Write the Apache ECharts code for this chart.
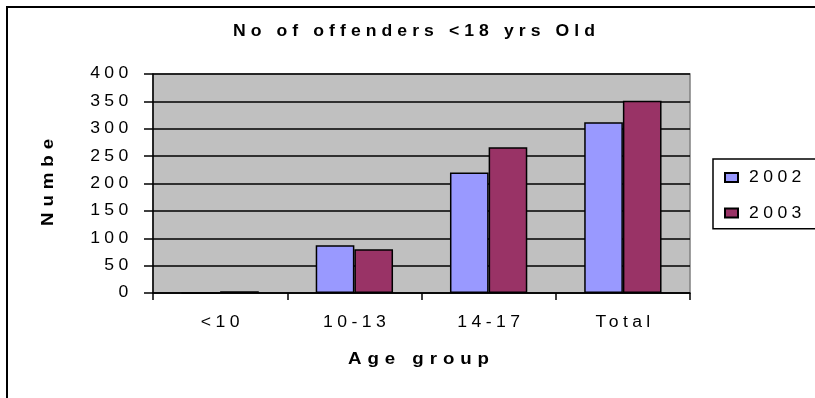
<!DOCTYPE html>
<html>
<head>
<meta charset="utf-8">
<script src="https://cdn.jsdelivr.net/npm/echarts@6/dist/echarts.min.js"></script>
<style>
  html, body { margin: 0; padding: 0; background: #ffffff; }
  #chart { width: 815px; height: 398px; }
</style>
</head>
<body>
<div id="chart"></div>
<script>
// Offender counts by age group
const categories = ['<10', '10-13', '14-17', 'Total'];
const seriesNames = ['2002', '2003'];
const values2002 = [0, 87, 220, 312];
const values2003 = [3, 80, 266, 351];
const yMin = 0;
const yMax = 400;
const yStep = 50;

const FONT = 'Arial, "Liberation Sans", sans-serif';

// Wide, tracked lettering: glyphs drawn slightly stretched with extra spacing
function textLook(font) {
  const m = /(\d+(?:\.\d+)?)px/.exec(font);
  const size = m ? parseFloat(m[1]) : 12;
  const bold = /bold|[6-9]00/.test(font);
  if (bold) return { sx: 1.1, ls: size >= 17 ? 5.4 : 4.6 };
  return { sx: 1.1, ls: 4 };
}
const nativeFillText = CanvasRenderingContext2D.prototype.fillText;
CanvasRenderingContext2D.prototype.fillText = function (text, x, y, maxWidth) {
  const look = textLook(this.font);
  this.save();
  this.translate(x, y);
  this.scale(look.sx, 1);
  if ('letterSpacing' in this) this.letterSpacing = look.ls + 'px';
  if (maxWidth === undefined) nativeFillText.call(this, text, 0, 0);
  else nativeFillText.call(this, text, 0, 0, maxWidth);
  this.restore();
};

const chart = echarts.init(document.getElementById('chart'), null, { renderer: 'canvas' });

const barStyle = (color) => ({ color: color, borderColor: '#000000', borderWidth: 1.5 });

chart.setOption({
  animation: false,
  backgroundColor: '#ffffff',
  textStyle: { fontFamily: FONT },
  graphic: [
    {
      type: 'rect',
      silent: true,
      shape: { x: 7, y: 7, width: 900, height: 500 },
      style: { fill: 'none', stroke: '#000000', lineWidth: 2 }
    },
    {
      type: 'text',
      silent: true,
      x: 416.5,
      y: 32,
      style: {
        text: 'No of offenders <18 yrs Old',
        fontFamily: FONT,
        fontSize: 16,
        fontWeight: 'bold',
        fill: '#000000',
        align: 'center',
        verticalAlign: 'middle'
      }
    }
  ],
  grid: {
    left: 153,
    top: 74,
    right: 125,
    bottom: 105,
    show: true,
    backgroundColor: '#c0c0c0',
    borderColor: '#808080',
    borderWidth: 1.5
  },
  legend: {
    orient: 'vertical',
    left: 713,
    top: 159,
    padding: [4.5, 40, 1.7, 11],
    itemGap: 7.6,
    itemWidth: 13,
    itemHeight: 9,
    icon: 'rect',
    borderColor: '#000000',
    borderWidth: 1.5,
    backgroundColor: '#ffffff',
    data: seriesNames,
    textStyle: {
      fontFamily: FONT,
      fontSize: 16,
      color: '#000000',
      lineHeight: 20,
      padding: [0, 0, 8, 6]
    }
  },
  xAxis: {
    type: 'category',
    data: categories,
    name: 'Age group',
    nameLocation: 'middle',
    nameGap: 66,
    nameTextStyle: {
      fontFamily: FONT,
      fontSize: 17,
      fontWeight: 'bold',
      color: '#000000',
      verticalAlign: 'middle'
    },
    axisLine: { lineStyle: { color: '#000000', width: 1.5 } },
    axisTick: { show: true, length: 7, lineStyle: { color: '#000000', width: 1.5 } },
    axisLabel: {
      fontFamily: FONT,
      fontSize: 16,
      color: '#000000',
      margin: 22,
      padding: [0, 0, 0, 4.4]
    },
    splitLine: { show: false }
  },
  yAxis: {
    type: 'value',
    min: yMin,
    max: yMax,
    interval: yStep,
    name: 'Number',
    nameLocation: 'middle',
    nameRotate: 90,
    nameGap: 105,
    nameTruncate: { maxWidth: 61, ellipsis: '' },
    nameTextStyle: {
      fontFamily: FONT,
      fontSize: 17,
      fontWeight: 'bold',
      color: '#000000',
      verticalAlign: 'middle',
      padding: [0, 0, 0, 8]
    },
    axisLine: { show: true, lineStyle: { color: '#000000', width: 1.5 } },
    axisTick: { show: true, length: 9, lineStyle: { color: '#000000', width: 1.5 } },
    axisLabel: {
      fontFamily: FONT,
      fontSize: 16,
      color: '#000000',
      margin: 20.3
    },
    splitLine: { show: true, lineStyle: { color: '#000000', width: 1.5 } }
  },
  series: [
    {
      name: seriesNames[0],
      type: 'bar',
      data: values2002,
      barGap: '0%',
      barCategoryGap: '42.4%',
      itemStyle: barStyle('#9999ff')
    },
    {
      name: seriesNames[1],
      type: 'bar',
      data: values2003,
      barGap: '0%',
      barCategoryGap: '42.4%',
      itemStyle: barStyle('#993366')
    }
  ]
});
</script>
</body>
</html>
